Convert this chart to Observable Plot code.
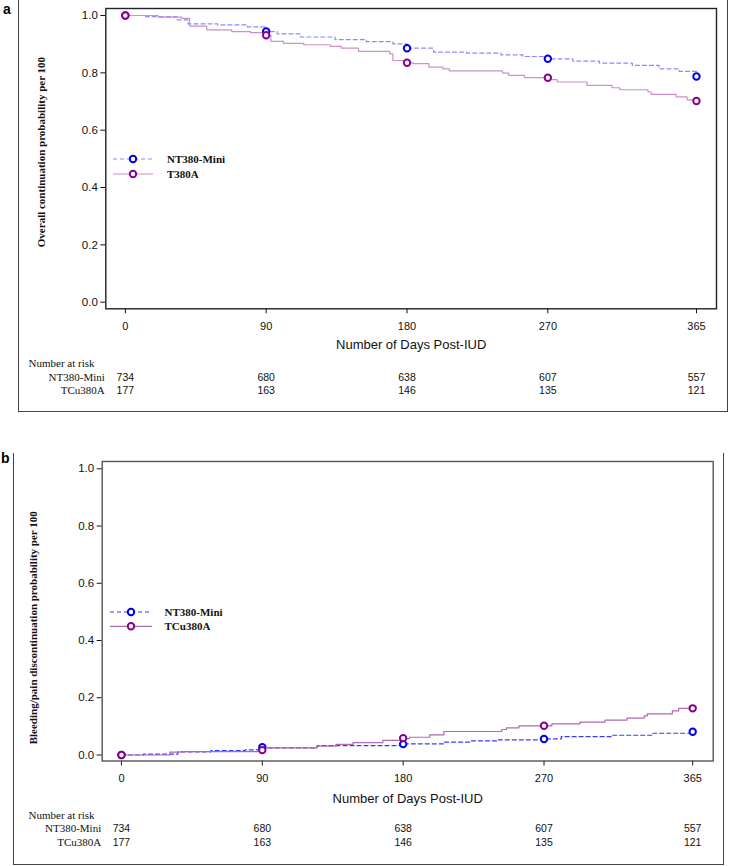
<!DOCTYPE html>
<html><head><meta charset="utf-8">
<script src="https://cdn.jsdelivr.net/npm/d3@7"></script>
<script src="https://cdn.jsdelivr.net/npm/@observablehq/plot@0.6"></script>
<style>
body{margin:0;background:#fff;}
#root{position:relative;width:729px;height:866px;overflow:hidden;background:#fff;}
.box{position:absolute;border-left:1.3px solid #444;border-right:1.3px solid #444;border-bottom:1.3px solid #444;box-sizing:border-box;}
.tag{position:absolute;font:bold 14px "Liberation Sans",Arial,sans-serif;line-height:1;}
.plot{position:absolute;left:0;}
.legend{position:absolute;overflow:visible;}
</style></head><body><div id="root"></div>
<script>
// ---------- data ----------
const dayTicks = [0, 90, 180, 270, 365];
const probTicks = [0, 0.2, 0.4, 0.6, 0.8, 1.0];
const riskDays = [0, 90, 180, 270, 365];
const riskMini = [734, 680, 638, 607, 557];
const riskTcu = [177, 163, 146, 135, 121];

// Panel a: overall continuation
const aMiniDays = [0,13,33,40,59,78,90,97,112,134,154,171,180,197,218,240,254,270,286,303,324,341,354,365];
const aMiniProb = [1.0,0.996,0.985,0.971,0.967,0.96,0.944,0.936,0.925,0.916,0.909,0.901,0.886,0.872,0.869,0.863,0.857,0.849,0.841,0.834,0.826,0.814,0.805,0.787];
const aTcuDays = [0,21,36,41,52,68,80,90,93,101,114,131,138,149,169,171,178,184,194,203,207,241,245,255,271,276,295,311,316,334,336,352,359,365];
const aTcuProb = [1.0,0.994,0.99,0.963,0.95,0.944,0.94,0.931,0.91,0.903,0.898,0.892,0.886,0.875,0.866,0.843,0.835,0.832,0.82,0.814,0.807,0.799,0.791,0.783,0.776,0.768,0.756,0.748,0.741,0.734,0.725,0.716,0.706,0.702];
const aMiniMark = [1.0, 0.944, 0.886, 0.849, 0.787];
const aTcuMark = [1.0, 0.931, 0.835, 0.783, 0.702];

// Panel b: bleeding/pain discontinuation
const bMiniDays = [0,14,36,57,79,88,125,178,206,223,240,270,281,313,339,365];
const bMiniProb = [0,0.003,0.011,0.015,0.018,0.025,0.033,0.039,0.045,0.049,0.053,0.056,0.064,0.069,0.076,0.081];
const bTcuDays = [0,31,38,90,91,125,137,148,167,178,184,197,206,243,246,254,275,293,309,323,334,336,352,356,365];
const bTcuProb = [0,0.01,0.012,0.017,0.025,0.031,0.037,0.043,0.051,0.057,0.062,0.07,0.082,0.089,0.095,0.102,0.109,0.115,0.122,0.129,0.137,0.144,0.154,0.163,0.163];
const bMiniMark = [0, 0.027, 0.038, 0.056, 0.081];
const bTcuMark = [0, 0.017, 0.059, 0.102, 0.163];

const SERIF = '"Liberation Serif","Times New Roman",serif';
const SANS = '"Liberation Sans",Arial,sans-serif';

const zip = (xs, ys) => xs.map((d, i) => ({day: d, p: ys[i]}));

function panel(cfg) {
  return Plot.plot({
    width: 729, height: cfg.height,
    marginLeft: cfg.ml, marginRight: cfg.mr, marginTop: cfg.mt, marginBottom: cfg.mb,
    x: {domain: cfg.xdom},
    y: {domain: cfg.ydom},
    style: {fontFamily: SANS, fontSize: "11px", color: "#111", background: "transparent", overflow: "visible"},
    marks: [
      Plot.axisY({ticks: probTicks, tickSize: 5, tickPadding: 3, label: null, tickFormat: d3.format(".1f"), fontSize: 11.5}),
      Plot.axisX({ticks: dayTicks, tickSize: 5, tickPadding: 8, label: null, tickFormat: d => String(d), fontSize: 11}),
      Plot.line(zip(cfg.miniDays, cfg.miniProb), {x: "day", y: "p", curve: "step-after", stroke: cfg.miniLine, strokeWidth: 1.2, strokeDasharray: "4,3"}),
      Plot.line(zip(cfg.tcuDays, cfg.tcuProb), {x: "day", y: "p", curve: "step-after", stroke: cfg.tcuLine, strokeWidth: 1.2}),
      Plot.dot(zip(dayTicks, cfg.miniMark), {x: "day", y: "p", r: 3.2, stroke: "#0000ee", strokeWidth: 2, fill: "white"}),
      Plot.dot(zip(dayTicks, cfg.tcuMark), {x: "day", y: "p", r: 3.2, stroke: "#880088", strokeWidth: 2, fill: "white"}),
      Plot.frame({stroke: cfg.frame, strokeWidth: 1.4}),
      Plot.text([cfg.ylabel], {frameAnchor: "left", textAnchor: "middle", lineAnchor: "middle", dx: cfg.ylx - cfg.ml, dy: cfg.yldy, rotate: -90, fontWeight: "bold", fontFamily: SERIF, fontSize: 11, fill: "#111"}),
      Plot.text(["Number of Days Post-IUD"], {frameAnchor: "bottom", dy: cfg.titleDy, fontSize: 13, fontFamily: SANS, fill: "#111"}),
      Plot.text(["Number at risk"], {frameAnchor: "bottom-left", dx: 28 - cfg.ml, dy: cfg.riskDy, textAnchor: "start", fontFamily: SERIF, fontSize: 11, fill: "#111"}),
      Plot.text(["NT380-Mini"], {frameAnchor: "bottom-left", dx: -1, dy: cfg.riskDy + 13.5, textAnchor: "end", fontFamily: SERIF, fontSize: 11, fill: "#111"}),
      Plot.text(["TCu380A"], {frameAnchor: "bottom-left", dx: -1, dy: cfg.riskDy + 27, textAnchor: "end", fontFamily: SERIF, fontSize: 11, fill: "#111"}),
      Plot.text(riskDays, {x: d => d, frameAnchor: "bottom", dy: cfg.riskDy + 13.5, text: (d, i) => String(riskMini[i]), fontSize: 10.5, fill: "#111"}),
      Plot.text(riskDays, {x: d => d, frameAnchor: "bottom", dy: cfg.riskDy + 27, text: (d, i) => String(riskTcu[i]), fontSize: 10.5, fill: "#111"})
    ]
  });
}

function legend(x, y, items) {
  const ns = "http://www.w3.org/2000/svg";
  const svg = document.createElementNS(ns, "svg");
  svg.setAttribute("class", "legend");
  svg.setAttribute("width", 140); svg.setAttribute("height", 34);
  svg.style.left = x + "px"; svg.style.top = y + "px";
  items.forEach((it, i) => {
    const cy = 7 + i * it.gap;
    const ln = document.createElementNS(ns, "line");
    ln.setAttribute("x1", 0); ln.setAttribute("x2", it.w); ln.setAttribute("y1", cy); ln.setAttribute("y2", cy);
    ln.setAttribute("stroke", it.line); ln.setAttribute("stroke-width", 1.2);
    if (it.dash) ln.setAttribute("stroke-dasharray", "4,3");
    svg.appendChild(ln);
    const c = document.createElementNS(ns, "circle");
    c.setAttribute("cx", it.w / 2); c.setAttribute("cy", cy); c.setAttribute("r", 3.2);
    c.setAttribute("fill", "white"); c.setAttribute("stroke", it.dot); c.setAttribute("stroke-width", 2);
    svg.appendChild(c);
    const t = document.createElementNS(ns, "text");
    t.setAttribute("x", it.tx); t.setAttribute("y", cy + 4);
    t.setAttribute("font-family", SERIF); t.setAttribute("font-weight", "bold"); t.setAttribute("font-size", 11);
    t.setAttribute("fill", "#111");
    t.textContent = it.label;
    svg.appendChild(t);
  });
  return svg;
}

const root = document.getElementById("root");

// outer frames
const boxA = document.createElement("div");
boxA.className = "box";
Object.assign(boxA.style, {left: "17.6px", top: "-5px", width: "710.6px", height: "416.6px"});
root.appendChild(boxA);
const boxB = document.createElement("div");
boxB.className = "box";
Object.assign(boxB.style, {left: "13.4px", top: "453px", width: "711px", height: "412px"});
root.appendChild(boxB);

// panel a
const pa = panel({
  height: 412, ml: 105.3, mr: 13, mt: 8, mb: 103.7,
  xdom: [-12.5, 377.8], ydom: [-0.023, 1.0244],
  miniDays: aMiniDays, miniProb: aMiniProb, tcuDays: aTcuDays, tcuProb: aTcuProb,
  miniMark: aMiniMark, tcuMark: aTcuMark,
  miniLine: "#8a8aff", tcuLine: "#cc90cc", frame: "#222",
  ylabel: "Overall continuation probability per 100", ylx: 41, yldy: -6.6,
  titleDy: 40, riskDy: 58.4
});
pa.classList.add("plot"); pa.style.top = "0px";
root.appendChild(pa);

// panel b
const pb = panel({
  height: 413, ml: 101.7, mr: 16.3, mt: 8, mb: 105.5,
  xdom: [-12.3, 378.1], ydom: [-0.021, 1.0255],
  miniDays: bMiniDays, miniProb: bMiniProb, tcuDays: bTcuDays, tcuProb: bTcuProb,
  miniMark: bMiniMark, tcuMark: bTcuMark,
  miniLine: "#3a3aff", tcuLine: "#b068b4", frame: "#555",
  ylabel: "Bleeding/pain discontinuation probability per 100", ylx: 33, yldy: 16.5,
  titleDy: 41.5, riskDy: 57.5
});
pb.classList.add("plot"); pb.style.top = "453px";
root.appendChild(pb);

// legends
root.appendChild(legend(113, 152, [
  {label: "NT380-Mini", line: "#8a8aff", dot: "#0000ee", dash: true, w: 40, tx: 54, gap: 15},
  {label: "T380A", line: "#cc90cc", dot: "#880088", dash: false, w: 40, tx: 54, gap: 15}
]));
root.appendChild(legend(110, 604.7, [
  {label: "NT380-Mini", line: "#3a3aff", dot: "#0000ee", dash: true, w: 42, tx: 54.5, gap: 14.3},
  {label: "TCu380A", line: "#b068b4", dot: "#880088", dash: false, w: 42, tx: 54.5, gap: 14.3}
]));

// panel tags
const ta = document.createElement("div"); ta.className = "tag"; ta.textContent = "a";
Object.assign(ta.style, {left: "3px", top: "2px"}); root.appendChild(ta);
const tb = document.createElement("div"); tb.className = "tag"; tb.textContent = "b";
Object.assign(tb.style, {left: "1px", top: "451px"}); root.appendChild(tb);
</script>
</body></html>
